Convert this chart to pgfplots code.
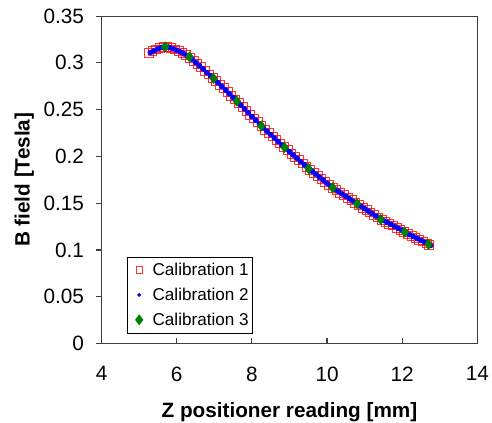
\documentclass[border=0pt]{standalone}
\usepackage{fontspec}
\setmainfont{Liberation Sans}
\usepackage{pgfplots}
\pgfplotsset{compat=1.18}
\definecolor{xlgreen}{RGB}{0,128,0}

% Calibration 1 (red squares)
\pgfplotstableread{
x y
5.25 0.3105
5.35 0.3125
5.45 0.3145
5.55 0.3160
5.65 0.3170
5.75 0.3170
5.85 0.3158
5.95 0.3145
6.05 0.3125
6.15 0.3105
6.25 0.3083
6.35 0.3057
6.45 0.3023
6.55 0.2988
6.65 0.2953
6.75 0.2915
6.85 0.2878
6.95 0.2843
7.05 0.2806
7.15 0.2768
7.25 0.2729
7.35 0.2690
7.45 0.2650
7.55 0.2610
7.65 0.2570
7.75 0.2529
7.85 0.2488
7.95 0.2448
8.05 0.2407
8.15 0.2367
8.25 0.2326
8.35 0.2288
8.45 0.2251
8.55 0.2214
8.65 0.2177
8.75 0.2140
8.85 0.2103
8.95 0.2068
9.05 0.2032
9.15 0.1997
9.25 0.1962
9.35 0.1926
9.45 0.1891
9.55 0.1858
9.65 0.1826
9.75 0.1794
9.85 0.1762
9.95 0.1730
10.05 0.1698
10.15 0.1667
10.25 0.1639
10.35 0.1613
10.45 0.1586
10.55 0.1560
10.65 0.1533
10.75 0.1507
10.85 0.1481
10.95 0.1455
11.05 0.1429
11.15 0.1403
11.25 0.1376
11.35 0.1350
11.45 0.1326
11.55 0.1305
11.65 0.1284
11.75 0.1263
11.85 0.1241
11.95 0.1220
12.05 0.1197
12.15 0.1175
12.25 0.1154
12.35 0.1133
12.45 0.1112
12.55 0.1092
12.65 0.1071
12.72 0.1058
}\calone

% Calibration 2 (blue dots)
\pgfplotstableread{
x y
5.30 0.3110
5.40 0.3130
5.50 0.3150
5.60 0.3165
5.70 0.3170
5.80 0.3165
5.90 0.3150
6.00 0.3135
6.10 0.3115
6.20 0.3095
6.30 0.3070
6.40 0.3040
6.50 0.3005
6.60 0.2970
6.70 0.2935
6.80 0.2895
6.90 0.2860
7.00 0.2825
7.10 0.2787
7.20 0.2748
7.30 0.2709
7.40 0.2670
7.50 0.2630
7.60 0.2590
7.70 0.2549
7.80 0.2509
7.90 0.2468
8.00 0.2427
8.10 0.2387
8.20 0.2346
8.30 0.2307
8.40 0.2270
8.50 0.2233
8.60 0.2196
8.70 0.2159
8.80 0.2121
8.90 0.2085
9.00 0.2050
9.10 0.2015
9.20 0.1980
9.30 0.1944
9.40 0.1909
9.50 0.1874
9.60 0.1842
9.70 0.1810
9.80 0.1778
9.90 0.1746
10.00 0.1714
10.10 0.1682
10.20 0.1652
10.30 0.1626
10.40 0.1600
10.50 0.1573
10.60 0.1547
10.70 0.1520
10.80 0.1495
10.90 0.1468
11.00 0.1442
11.10 0.1416
11.20 0.1390
11.30 0.1363
11.40 0.1337
11.50 0.1316
11.60 0.1295
11.70 0.1274
11.80 0.1252
11.90 0.1231
12.00 0.1210
12.10 0.1185
12.20 0.1164
12.30 0.1144
12.40 0.1123
12.50 0.1102
12.60 0.1082
12.70 0.1061
12.76 0.1050
}\caltwo

% Calibration 3 (green diamonds)
\pgfplotstableread{
x y
5.69 0.3171
6.34 0.3064
6.98 0.2833
7.60 0.2590
8.25 0.2326
8.87 0.2095
9.51 0.1870
10.15 0.1666
10.80 0.1495
11.43 0.1327
12.07 0.1191
12.70 0.1060
}\calthree

\begin{document}
\begin{tikzpicture}
\begin{axis}[name=ax, scale only axis,
  width=281pt, height=245pt,
  xmin=4, xmax=14, ymin=0, ymax=0.35,
  xtick={4,6,8,10,12,14},
  ytick={0,0.05,0.1,0.15,0.2,0.25,0.3,0.35},
  xtick pos=bottom, ytick pos=left,
  xtick align=inside, ytick align=outside,
  major tick length=4pt,
  axis line style={line width=0.8pt, black!75},
  every tick/.style={black!75, line width=0.8pt},
  tick label style={font=\fontsize{15.5}{18}\selectfont, inner sep=0pt},
  xticklabel style={yshift=-17pt},
  yticklabel style={xshift=-9pt, /pgf/number format/fixed, /pgf/number format/precision=2},
  /pgf/number format/assume math mode=true,
  scaled y ticks=false,
  xlabel={\textbf{Z positioner reading [mm]}},
  ylabel={\textbf{B field [Tesla]}},
  label style={font=\fontsize{15.5}{18}\selectfont, inner sep=0pt},
  xlabel style={at={(axis description cs:0.5,0)}, anchor=north, yshift=-43.5pt},
  ylabel style={at={(axis description cs:-0.206,0.5)}, anchor=center, rotate=0},
  legend style={at={(0.067,0.031)}, anchor=south west,
    font=\fontsize{12.8}{15}\selectfont, draw=black, line width=0.6pt,
    row sep=3.8pt, inner xsep=1pt, inner ysep=2.5pt},
  legend cell align=left,
]
\addplot[only marks, mark=square, mark size=3.3pt, red, mark options={line width=0.5pt, draw opacity=0.8},
  legend image code/.code={\path[draw=none] (0pt,0pt) -- (16pt,0pt);
    \draw[red, line width=0.6pt, mark=square, mark size=2.5pt, only marks] plot coordinates {(8pt,0pt)};}] table {\calone};
\addlegendentry{Calibration 1}
\addplot[only marks, mark=*, mark size=1.9pt, blue,
  legend image code/.code={\path[draw=none] (0pt,0pt) -- (16pt,0pt);
    \fill[blue] (8pt,0pt) circle (1.1pt);}] table {\caltwo};
\addlegendentry{Calibration 2}
\addplot[only marks, mark=diamond*, mark size=3.8pt, xlgreen, mark options={fill=xlgreen, draw=xlgreen},
  legend image code/.code={\path[draw=none] (0pt,0pt) -- (16pt,0pt);
    \draw[xlgreen, fill=xlgreen, mark=diamond*, mark size=3.6pt, only marks] plot coordinates {(8pt,0pt)};}] table {\calthree};
\addlegendentry{Calibration 3}
\end{axis}
\path ([shift={(-76pt,-59pt)}]ax.south west) rectangle ([shift={(11pt,12pt)}]ax.north east);
\end{tikzpicture}
\end{document}
